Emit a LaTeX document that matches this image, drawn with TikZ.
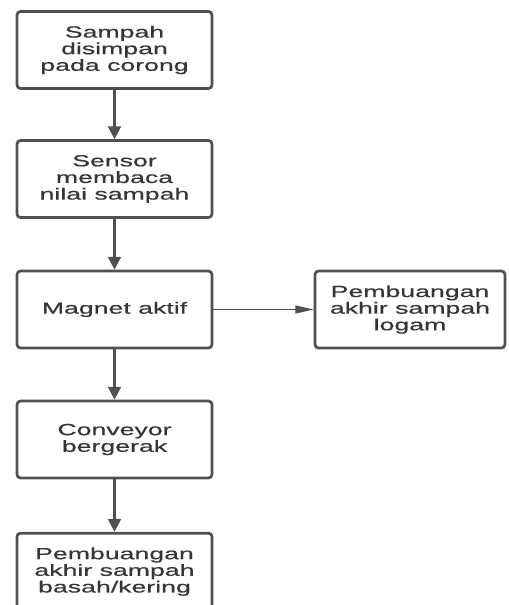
\documentclass[tikz,border=0pt]{standalone}
\usepackage{fontspec}
\newfontfamily\flowfont[FakeStretch=1.65,FakeBold=0.4]{Liberation Sans}
\usetikzlibrary{arrows.meta,positioning}
\definecolor{linegray}{HTML}{505050}
\definecolor{textgray}{HTML}{353535}
\tikzset{
  stepbox/.style={rounded corners=3pt,draw=linegray,fill=white,line width=2.3pt,minimum width=5.85cm,minimum height=2.31cm,font=\flowfont\fontsize{13.8}{14.2}\selectfont,text=textgray,align=center},
  sidebox/.style={stepbox,minimum width=5.7cm},
  arr/.style={-{Triangle[length=3.8mm,width=3.8mm]},draw=linegray,line width=2.1pt},
  arrthin/.style={-{Triangle[length=5.5mm,width=2.4mm]},draw=linegray,line width=1pt}
}
\begin{document}
\begin{tikzpicture}[x=1cm,y=1cm]
\path[use as bounding box] (0,0) rectangle (15.27,18.15);
\node[stepbox] (simpan) at (3.435,16.65) {Sampah\\disimpan\\pada corong};
\node[stepbox] (sensor) at (3.435,12.78) {Sensor\\membaca\\nilai sampah};
\node[stepbox] (magnet) at (3.435,8.865) {Magnet aktif};
\node[sidebox] (logam) at (12.3,8.865) {Pembuangan\\akhir sampah\\logam};
\node[stepbox] (conveyor) at (3.435,4.965) {Conveyor\\bergerak};
\node[stepbox] (basah) at (3.435,1.0) {Pembuangan\\akhir sampah\\basah/kering};
\draw[arr] (simpan)--(sensor); \draw[arr] (sensor)--(magnet);
\draw[arrthin] (magnet)--(logam);
\draw[arr] (magnet)--(conveyor); \draw[arr] (conveyor)--(basah);
\end{tikzpicture}
\end{document}
